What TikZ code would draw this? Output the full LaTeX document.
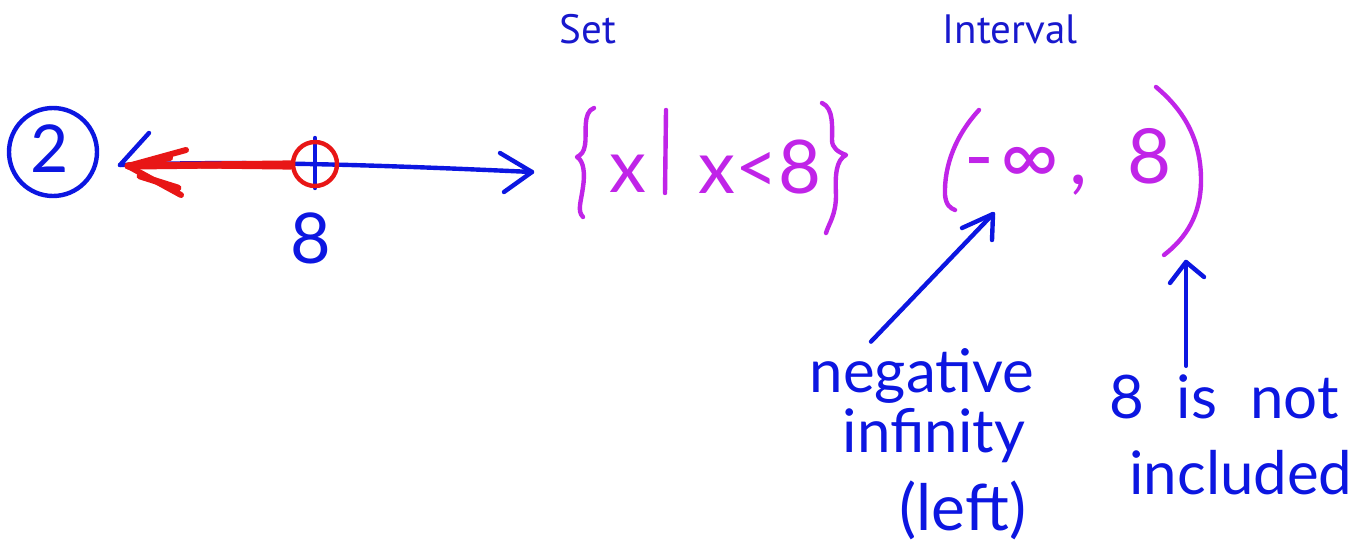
\documentclass[tikz,border=0pt]{standalone}
\usepackage{fontspec}
\setmainfont{Lato}
\newfontfamily\titlefont{PT Sans}
\usetikzlibrary{calc}
\definecolor{penblue}{RGB}{12,22,225}
\definecolor{penmag}{RGB}{192,36,232}
\definecolor{penred}{RGB}{232,22,22}
\definecolor{titleblue}{RGB}{24,24,205}
\tikzset{
  pen/.style={line width=2.2pt, line cap=round, line join=round},
  bluepen/.style={pen, draw=penblue},
  magpen/.style={pen, draw=penmag},
  redpen/.style={pen, draw=penred},
  hand/.style={inner sep=0pt, text=penblue, font=\fontsize{30}{30}\selectfont},
  maghand/.style={inner sep=0pt, text=penmag, font=\fontsize{37}{37}\selectfont},
  titletext/.style={inner sep=0pt, text=titleblue, font=\titlefont\fontsize{20.5}{20.5}\selectfont},
}
\begin{document}
\begin{tikzpicture}[x=0.5pt, y=-0.5pt]
\useasboundingbox (0,0) rectangle (1363,551);
\fill[white] (0,0) rectangle (1363,551);

% titles
\node[titletext] (settitle) at (588,29) {Set};
\node[titletext] (inttitle) at (1010,29) {Interval};

% circled 2
\node[circle, bluepen, minimum size=44pt, inner sep=0pt] (circ) at (53,152) {};
\node[hand, font=\fontsize{33}{33}\selectfont] (two) at (50,149) {2};

% number line
\coordinate (lt) at (120,165);
\coordinate (rt) at (532,172);
\draw[bluepen] (lt) .. controls (250,160) and (400,166) .. (rt);
\draw[bluepen] (149,133) -- (lt);
\draw[bluepen] (500,153) -- (rt) -- (504,192);
\coordinate (ticktop) at (315,138);
\coordinate (tickbot) at (315,188);
\draw[bluepen] (ticktop) -- (tickbot);
\node[hand, font=\fontsize{35}{35}\selectfont] (eight) at (311,238) {8};

% red open circle and shading arrow
\node[circle, redpen, minimum size=22pt, inner sep=0pt] (hole) at (315,164) {};
\coordinate (rtip) at (128,166);
\draw[redpen, line width=3.6pt] (hole.west) -- (rtip);
\draw[redpen, line width=1.6pt] ([yshift=-2pt]hole.west) -- (rtip);
\draw[redpen, line width=3pt] (186,150) -- (rtip) -- (181,195);
\draw[redpen, line width=3pt] (170,158) -- (rtip);
\draw[redpen, line width=3.4pt] (140,176) -- (178,188);

% set notation
\draw[magpen] (594,108) .. controls (582,112) and (587,135) .. (585,145)
  .. controls (584,152) and (581,155) .. (577,157)
  .. controls (584,161) and (585,174) .. (583,187)
  .. controls (581,202) and (577,211) .. (583,217);
\node[maghand] (sx) at (628,174) {x};
\coordinate (bartop) at (666,110);
\coordinate (barbot) at (665,193);
\draw[magpen] (bartop) -- (barbot);
\node[maghand] (scond) at (760,167) {x<8};
\draw[magpen] (822,103) .. controls (834,108) and (832,128) .. (832,140)
  .. controls (832,148) and (838,152) .. (846,155)
  .. controls (836,160) and (835,175) .. (836,195)
  .. controls (836,215) and (829,223) .. (826,233);

% interval notation
\draw[magpen] (979,110) .. controls (956,135) and (944,165) .. (945,195)
  .. controls (946,205) and (950,208) .. (955,210);
\node[maghand, anchor=base west, font=\fontsize{40}{40}\selectfont] (ninf) at (964,184) {-\hspace{3pt}∞\hspace{5pt},};
\node[maghand, font=\fontsize{38}{38}\selectfont] (ieight) at (1150,156) {8};
\draw[magpen] (1156,87) .. controls (1186,112) and (1201,142) .. (1201,180)
  .. controls (1201,215) and (1186,238) .. (1164,255);

% annotations
\node[hand, anchor=base] (neg) at (922,392) {negative};
\node[hand, anchor=base] (inf) at (934,452) {infinity};
\node[hand, anchor=base, font=\fontsize{32}{32}\selectfont] (left) at (963,530) {(left)};
\coordinate (negtip) at (993,214);
\draw[bluepen] ([xshift=-25.5pt, yshift=3pt]neg.north) -- (negtip);
\draw[bluepen] (962,228) -- (negtip) -- (992,240);

\node[hand, anchor=base] (notinc) at (1224,418) {\spaceskip=0.55em\relax 8 is not};
\node[hand, anchor=base] (incl) at (1241,494) {included};
\coordinate (uptip) at (1186,262);
\draw[bluepen] ([xshift=-19pt, yshift=4pt]notinc.north) -- (uptip);
\draw[bluepen] (1170,283) -- (uptip) -- (1204,277);
\end{tikzpicture}
\end{document}
